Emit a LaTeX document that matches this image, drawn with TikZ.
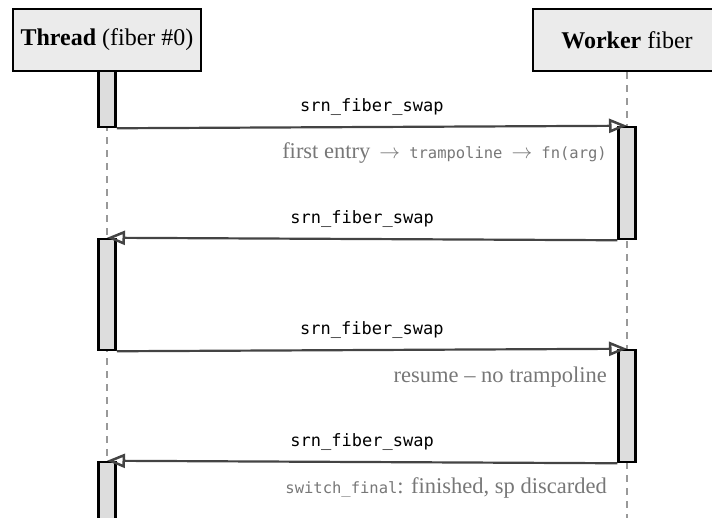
\documentclass[tikz,border=0pt]{standalone}
\usepackage{fontspec}
\setmainfont{Liberation Serif}
\setmonofont{DejaVu Sans Mono}
\usetikzlibrary{arrows.meta}
\definecolor{boxfill}{HTML}{EBEBEB}
\definecolor{barfill}{HTML}{DDDDDD}
\definecolor{msgline}{HTML}{444444}
\definecolor{lifegray}{HTML}{999999}
\definecolor{notegray}{HTML}{777777}
\newcommand{\notecode}[1]{{\fontsize{15.5}{18}\ttfamily #1}}
\begin{document}
\begin{tikzpicture}[x=1pt, y=-1pt,
  lifebox/.style={draw=black, line width=2.5pt, fill=boxfill, minimum width=188pt, minimum height=62pt, inner sep=0pt, font=\fontsize{24}{28}\selectfont},
  actbar/.style={draw=black, line width=2.5pt, fill=barfill, minimum width=17pt, inner sep=0pt},
  lifeline/.style={lifegray, line width=2.4pt, dash pattern=on 7pt off 6pt},
  msg/.style={msgline, line width=2.2pt, -{Triangle[open, length=18pt, width=14pt, line width=2.5pt]}},
  msglabel/.style={black, font=\fontsize{17}{20}\ttfamily, yshift=20pt},
  note/.style={notegray, anchor=east, inner sep=0pt, font=\fontsize{22.5}{26}\selectfont}]
  \useasboundingbox (0,0) rectangle (712,517);
  % Participants
  \node[lifebox] (thread) at (107,40) {\textbf{Thread} (fiber \#0)};
  \node[lifebox] (worker) at (627,40) {\textbf{Worker} fiber};
  \coordinate (threadend) at (107,530);
  \coordinate (workerend) at (627,530);
  \draw[lifeline] (thread.south) -- (threadend);
  \draw[lifeline] (worker.south) -- (workerend);
  % Activations
  \node[actbar, minimum height=56pt] (tb1) at (107,99) {};
  \node[actbar, minimum height=112pt] (wb1) at (627,183) {};
  \node[actbar, minimum height=111pt] (tb2) at (107,294.5) {};
  \node[actbar, minimum height=112pt] (wb2) at (627,406) {};
  \node[actbar, minimum height=70pt] (tb3) at (107,497) {};
  % Messages
  \draw[msg] (tb1.south east) -- (wb1.north) node[msglabel, midway] (m1) {srn\_fiber\_swap};
  \draw[msg] (wb1.south west) -- (tb2.north) node[msglabel, midway] (m2) {srn\_fiber\_swap};
  \draw[msg] (tb2.south east) -- (wb2.north) node[msglabel, midway] (m3) {srn\_fiber\_swap};
  \draw[msg] (wb2.south west) -- (tb3.north) node[msglabel, midway] (m4) {srn\_fiber\_swap};
  % Notes
  \node[note] (n1) at (607,153) {first entry $\,\rightarrow\,$ \notecode{trampoline} $\,\rightarrow\,$ \notecode{fn(arg)}};
  \node[note] (n2) at (607,377) {resume -- no trampoline};
  \node[note] (n3) at (607,488) {\notecode{switch\_final}: finished, sp discarded};
\end{tikzpicture}
\end{document}
